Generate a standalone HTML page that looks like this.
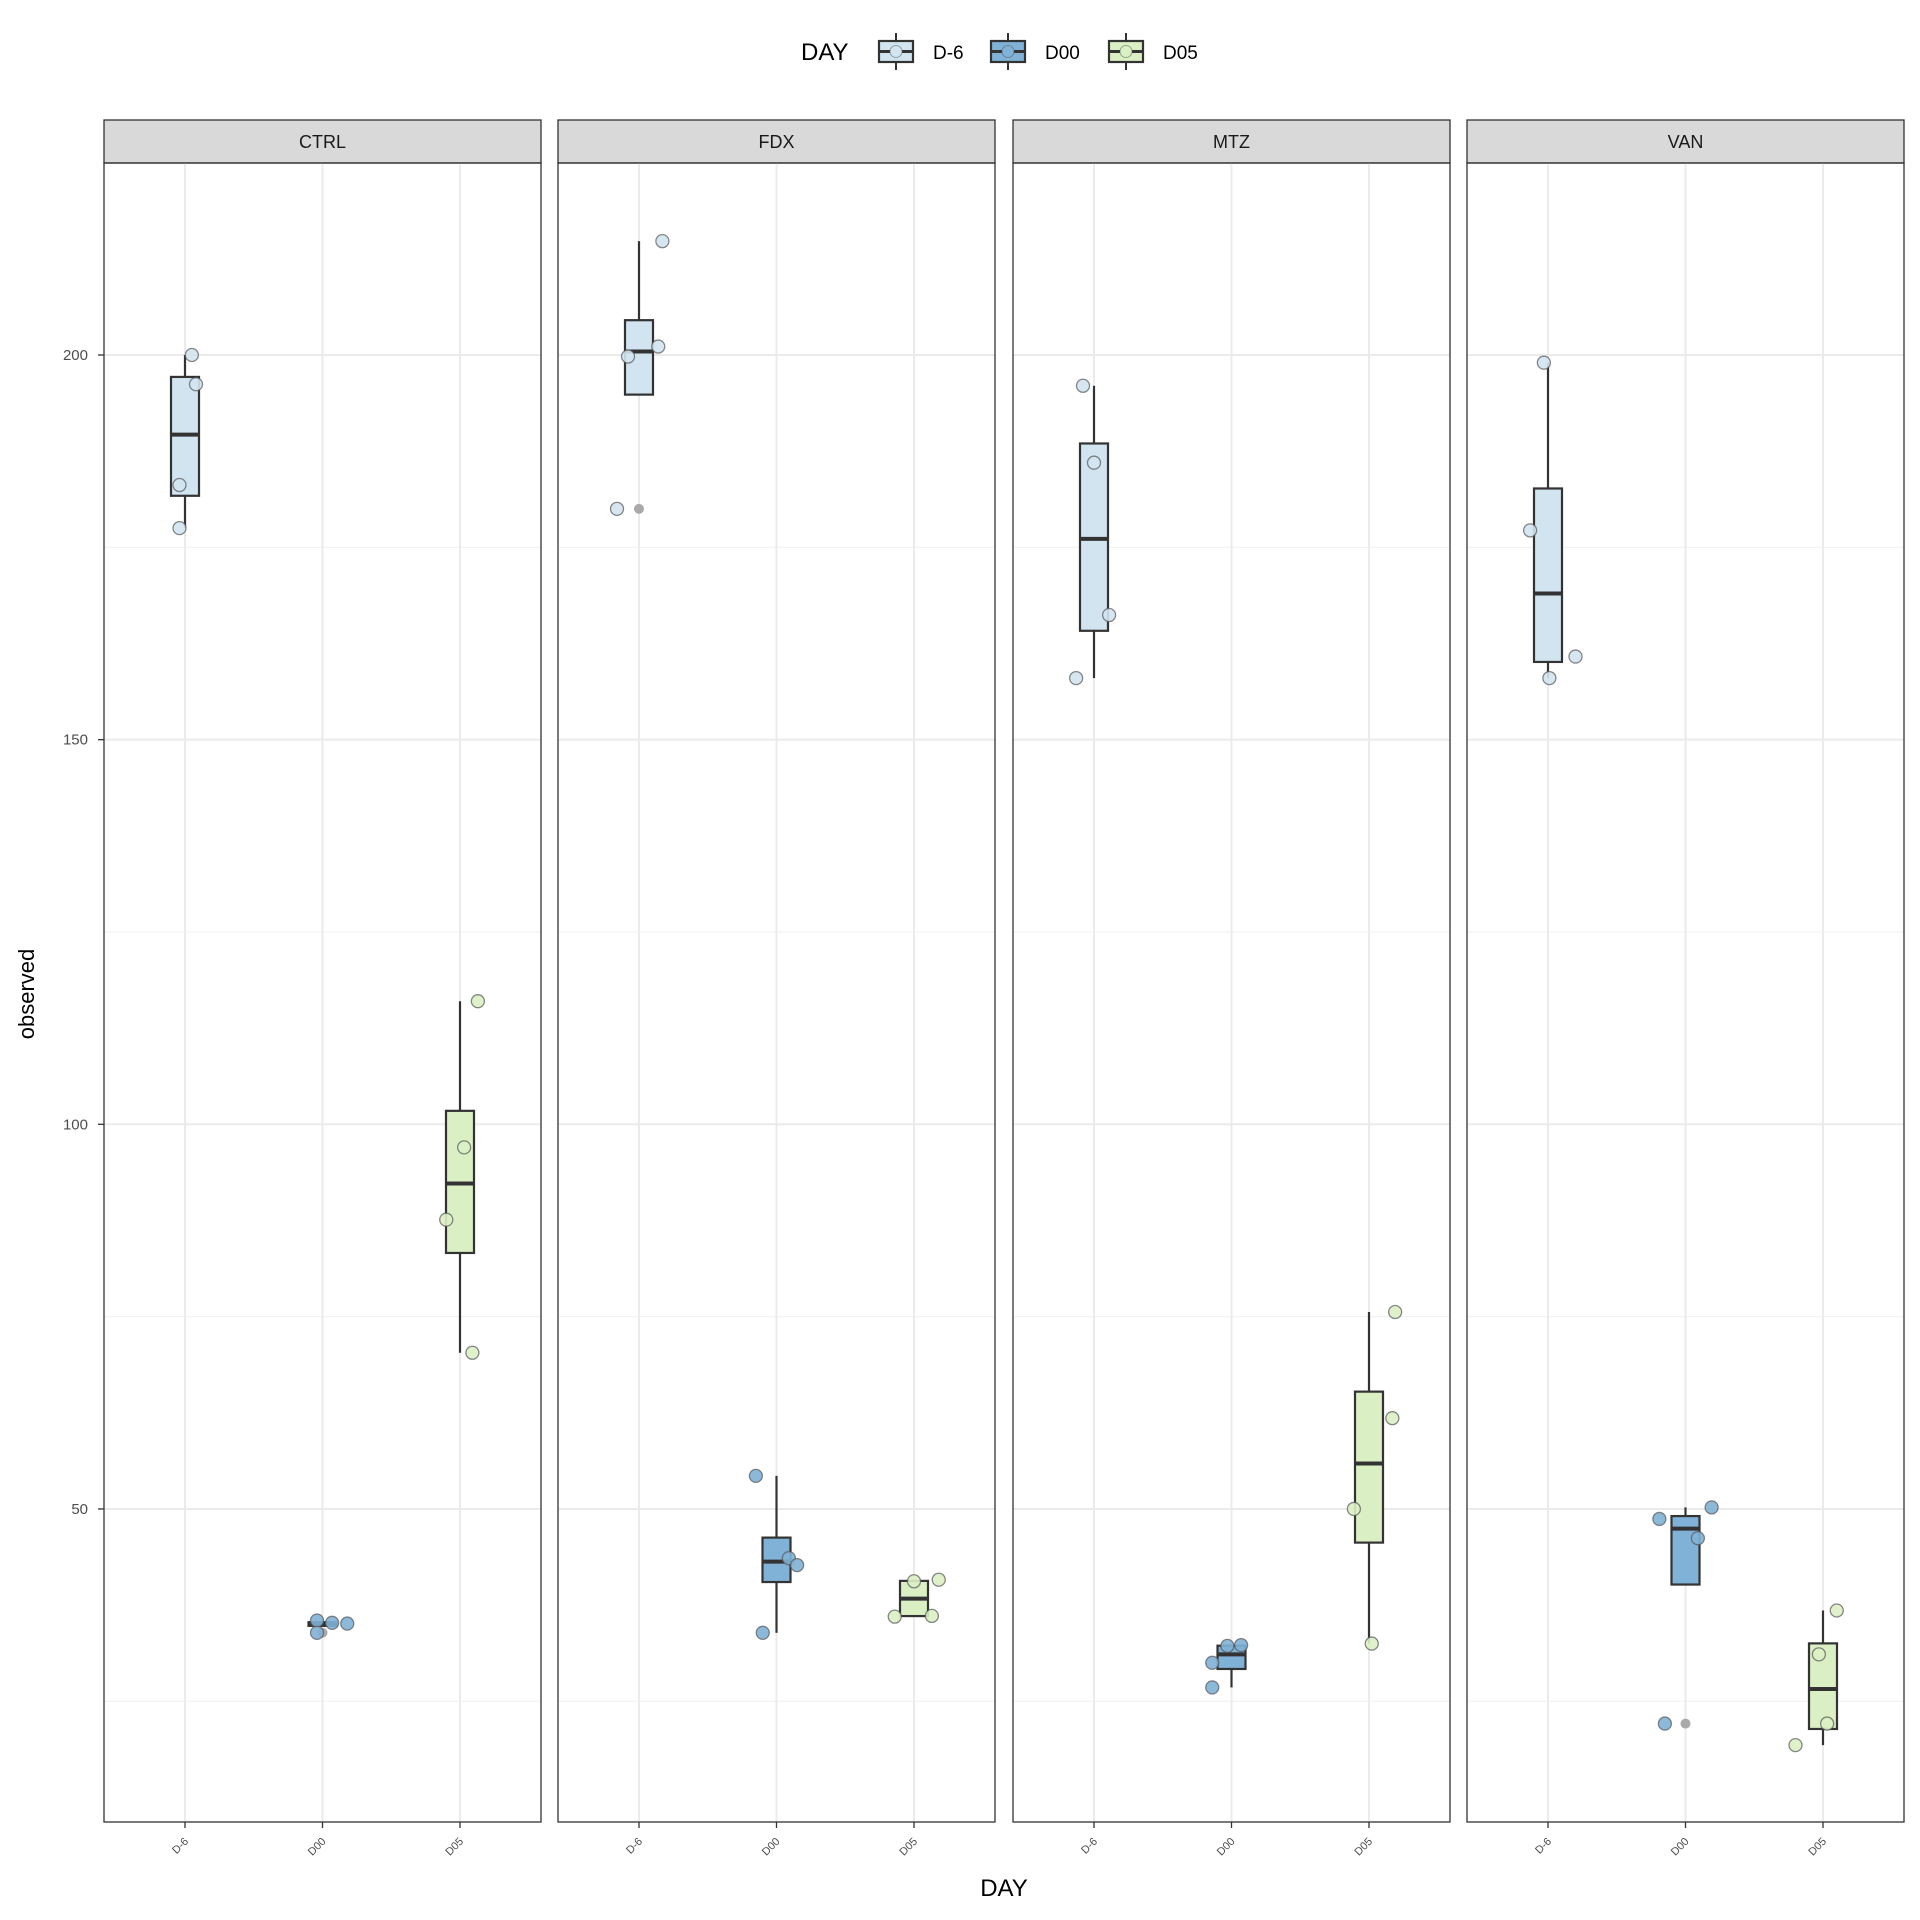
<!DOCTYPE html>
<html><head><meta charset="utf-8"><style>
html,body{margin:0;padding:0;background:#fff;}
svg{display:block;font-family:"Liberation Sans",Arial,sans-serif;}
</style></head><body>
<svg id="chart" width="1920" height="1920" viewBox="0 0 1920 1920" xmlns="http://www.w3.org/2000/svg"></svg>
<script>
const panels = ["CTRL","FDX","MTZ","VAN"];
const days = ["D-6","D00","D05"];
const yTicks = [50,100,150,200];
const yMinor = [25,75,125,175];
// observed values per panel per day
const ctrlVals = [[200,196.2,183.1,177.5],[35.5,33.9,35.2,35.1],[116,97,87.6,70.3]];
const fdxVals = [[214.8,199.8,201.1,180],[54.3,33.9,43.6,42.7],[36,40.6,36.1,40.8]];
const mtzVals = [[196,186,166.2,158],[30,26.8,32.2,32.3],[75.6,61.8,50,32.5]];
const vanVals = [[199,177.2,160.8,158],[48.7,50.2,46.2,22.1],[36.8,31.1,22.1,19.3]];
// jitter (fraction of category spacing)
const ctrlJit = [[0.05,0.08,-0.04,-0.04],[-0.04,-0.04,0.07,0.18],[0.13,0.03,-0.1,0.09]];
const fdxJit = [[0.17,-0.08,0.14,-0.16],[-0.15,-0.1,0.09,0.15],[-0.14,0,0.13,0.18]];
const mtzJit = [[-0.08,0,0.11,-0.13],[-0.14,-0.14,-0.03,0.07],[0.19,0.17,-0.11,0.02]];
const vanJit = [[-0.03,-0.13,0.2,0.01],[-0.19,0.19,0.09,-0.15],[0.1,-0.03,0.03,-0.2]];
const allVals=[ctrlVals,fdxVals,mtzVals,vanVals];
const allJit=[ctrlJit,fdxJit,mtzJit,vanJit];
const fills={"D-6":"#d2e4f0","D00":"#80b1d6","D05":"#daefc4"};

const NS="http://www.w3.org/2000/svg";
const svg=document.getElementById('chart');
function mk(tag,attrs,parent){const e=document.createElementNS(NS,tag);for(const k in attrs)e.setAttribute(k,attrs[k]);(parent||svg).appendChild(e);return e;}
const plotTop=163, plotBot=1822, panelW=437;
const panelX=[104,558,1013,1467];
function y(v){return 355+(200-v)*7.693;}
function xc(p,i){return panelX[p]+81+i*137.5;}
function q(s,p){const h=(s.length-1)*p;const l=Math.floor(h);return s[l]+(h-l)*((s[Math.min(l+1,s.length-1)])-s[l]);}

// y ticks labels
yTicks.forEach(t=>{
 const tl=mk('text',{x:88,y:y(t)+5,'text-anchor':'end','font-size':15,fill:'#4d4d4d'});
 
 
 tl.textContent=t;
 mk('line',{x1:98,x2:104,y1:y(t),y2:y(t),stroke:'#333','stroke-width':1.3});
});
const yt=mk('text',{x:0,y:0,transform:'translate(34,994) rotate(-90)','text-anchor':'middle','font-size':22,fill:'#000'});
yt.textContent='observed';
const xt=mk('text',{x:1004,y:1896,'text-anchor':'middle','font-size':24,fill:'#000'});
xt.textContent='DAY';

panels.forEach((pn,p)=>{
 const g=mk('g',{});
 
 
 const px=panelX[p];
 // strip
 const st=mk('rect',{x:px,y:120,width:panelW,height:43,fill:'#d9d9d9',stroke:'#333','stroke-width':1.3},g);
 
 
 const stx=mk('text',{x:px+panelW/2,y:148,'text-anchor':'middle','font-size':18,fill:'#1a1a1a'},g);
 stx.textContent=pn;
 // grid
 yMinor.forEach(t=>mk('line',{x1:px,x2:px+panelW,y1:y(t),y2:y(t),stroke:'#f0f0f0','stroke-width':1},g));
 yTicks.forEach(t=>mk('line',{x1:px,x2:px+panelW,y1:y(t),y2:y(t),stroke:'#ebebeb','stroke-width':2},g));
 days.forEach((d,i)=>{
  mk('line',{x1:xc(p,i),x2:xc(p,i),y1:plotTop,y2:plotBot,stroke:'#ebebeb','stroke-width':2},g);
  mk('line',{x1:xc(p,i),x2:xc(p,i),y1:plotBot,y2:plotBot+6,stroke:'#333','stroke-width':1.3},g);
  const tl=mk('text',{x:0,y:0,transform:`translate(${xc(p,i)+4},${plotBot+20}) rotate(-45)`,'text-anchor':'end','font-size':11,fill:'#4d4d4d'},g);
  
  
  tl.textContent=d;
 });
 // boxes
 days.forEach((d,i)=>{
  const vals=allVals[p][i];const s=[...vals].sort((a,b)=>a-b);
  const q1=q(s,.25),md=q(s,.5),q3=q(s,.75),iqr=q3-q1;
  const inl=s.filter(v=>v>=q1-1.5*iqr&&v<=q3+1.5*iqr);
  const lo=Math.min(...inl),hi=Math.max(...inl);
  const cx=xc(p,i),bw=28;
  const bg=mk('g',{},g);
  
  
  mk('line',{x1:cx,x2:cx,y1:y(hi),y2:y(q3),stroke:'#333','stroke-width':2.2},bg);
  mk('line',{x1:cx,x2:cx,y1:y(q1),y2:y(Math.min(lo,q1)),stroke:'#333','stroke-width':2.2},bg);
  mk('rect',{x:cx-bw/2,y:y(q3),width:bw,height:Math.max(y(q1)-y(q3),1),fill:fills[d],stroke:'#333','stroke-width':2.2},bg);
  mk('line',{x1:cx-bw/2,x2:cx+bw/2,y1:y(md),y2:y(md),stroke:'#333','stroke-width':4},bg);
  s.forEach(v=>{if(v<q1-1.5*iqr||v>q3+1.5*iqr){mk('circle',{cx:cx,cy:y(v),r:5,fill:'#aaa'},bg);}});
  vals.forEach((v,k)=>{
   const c=mk('circle',{cx:cx+allJit[p][i][k]*137.5,cy:y(v),r:6.5,fill:fills[d],stroke:'#555','stroke-opacity':0.7,'stroke-width':1.3,'fill-opacity':0.9},bg);
   
   
  });
 });
 mk('rect',{x:px,y:plotTop,width:panelW,height:plotBot-plotTop,fill:'none',stroke:'#333','stroke-width':1.3},g);
});

// legend
const lg=mk('g',{});


const lt=mk('text',{x:801,y:60,'font-size':24,fill:'#000'},lg);lt.textContent='DAY';
const lx=[879,991,1109];
days.forEach((d,i)=>{
 const e=mk('g',{},lg);
 
 
 const x0=lx[i];
 mk('line',{x1:x0+17,x2:x0+17,y1:33,y2:70,stroke:'#333','stroke-width':2},e);
 mk('rect',{x:x0,y:41,width:34,height:21,fill:fills[d],stroke:'#333','stroke-width':2.2},e);
 mk('line',{x1:x0,x2:x0+34,y1:51.5,y2:51.5,stroke:'#333','stroke-width':3},e);
 mk('circle',{cx:x0+17,cy:51.5,r:6,fill:fills[d],stroke:'#555','stroke-opacity':0.5},e);
 const t=mk('text',{x:x0+54,y:59,'font-size':19,fill:'#000'},e);t.textContent=d;
});
</script>
</body></html>
